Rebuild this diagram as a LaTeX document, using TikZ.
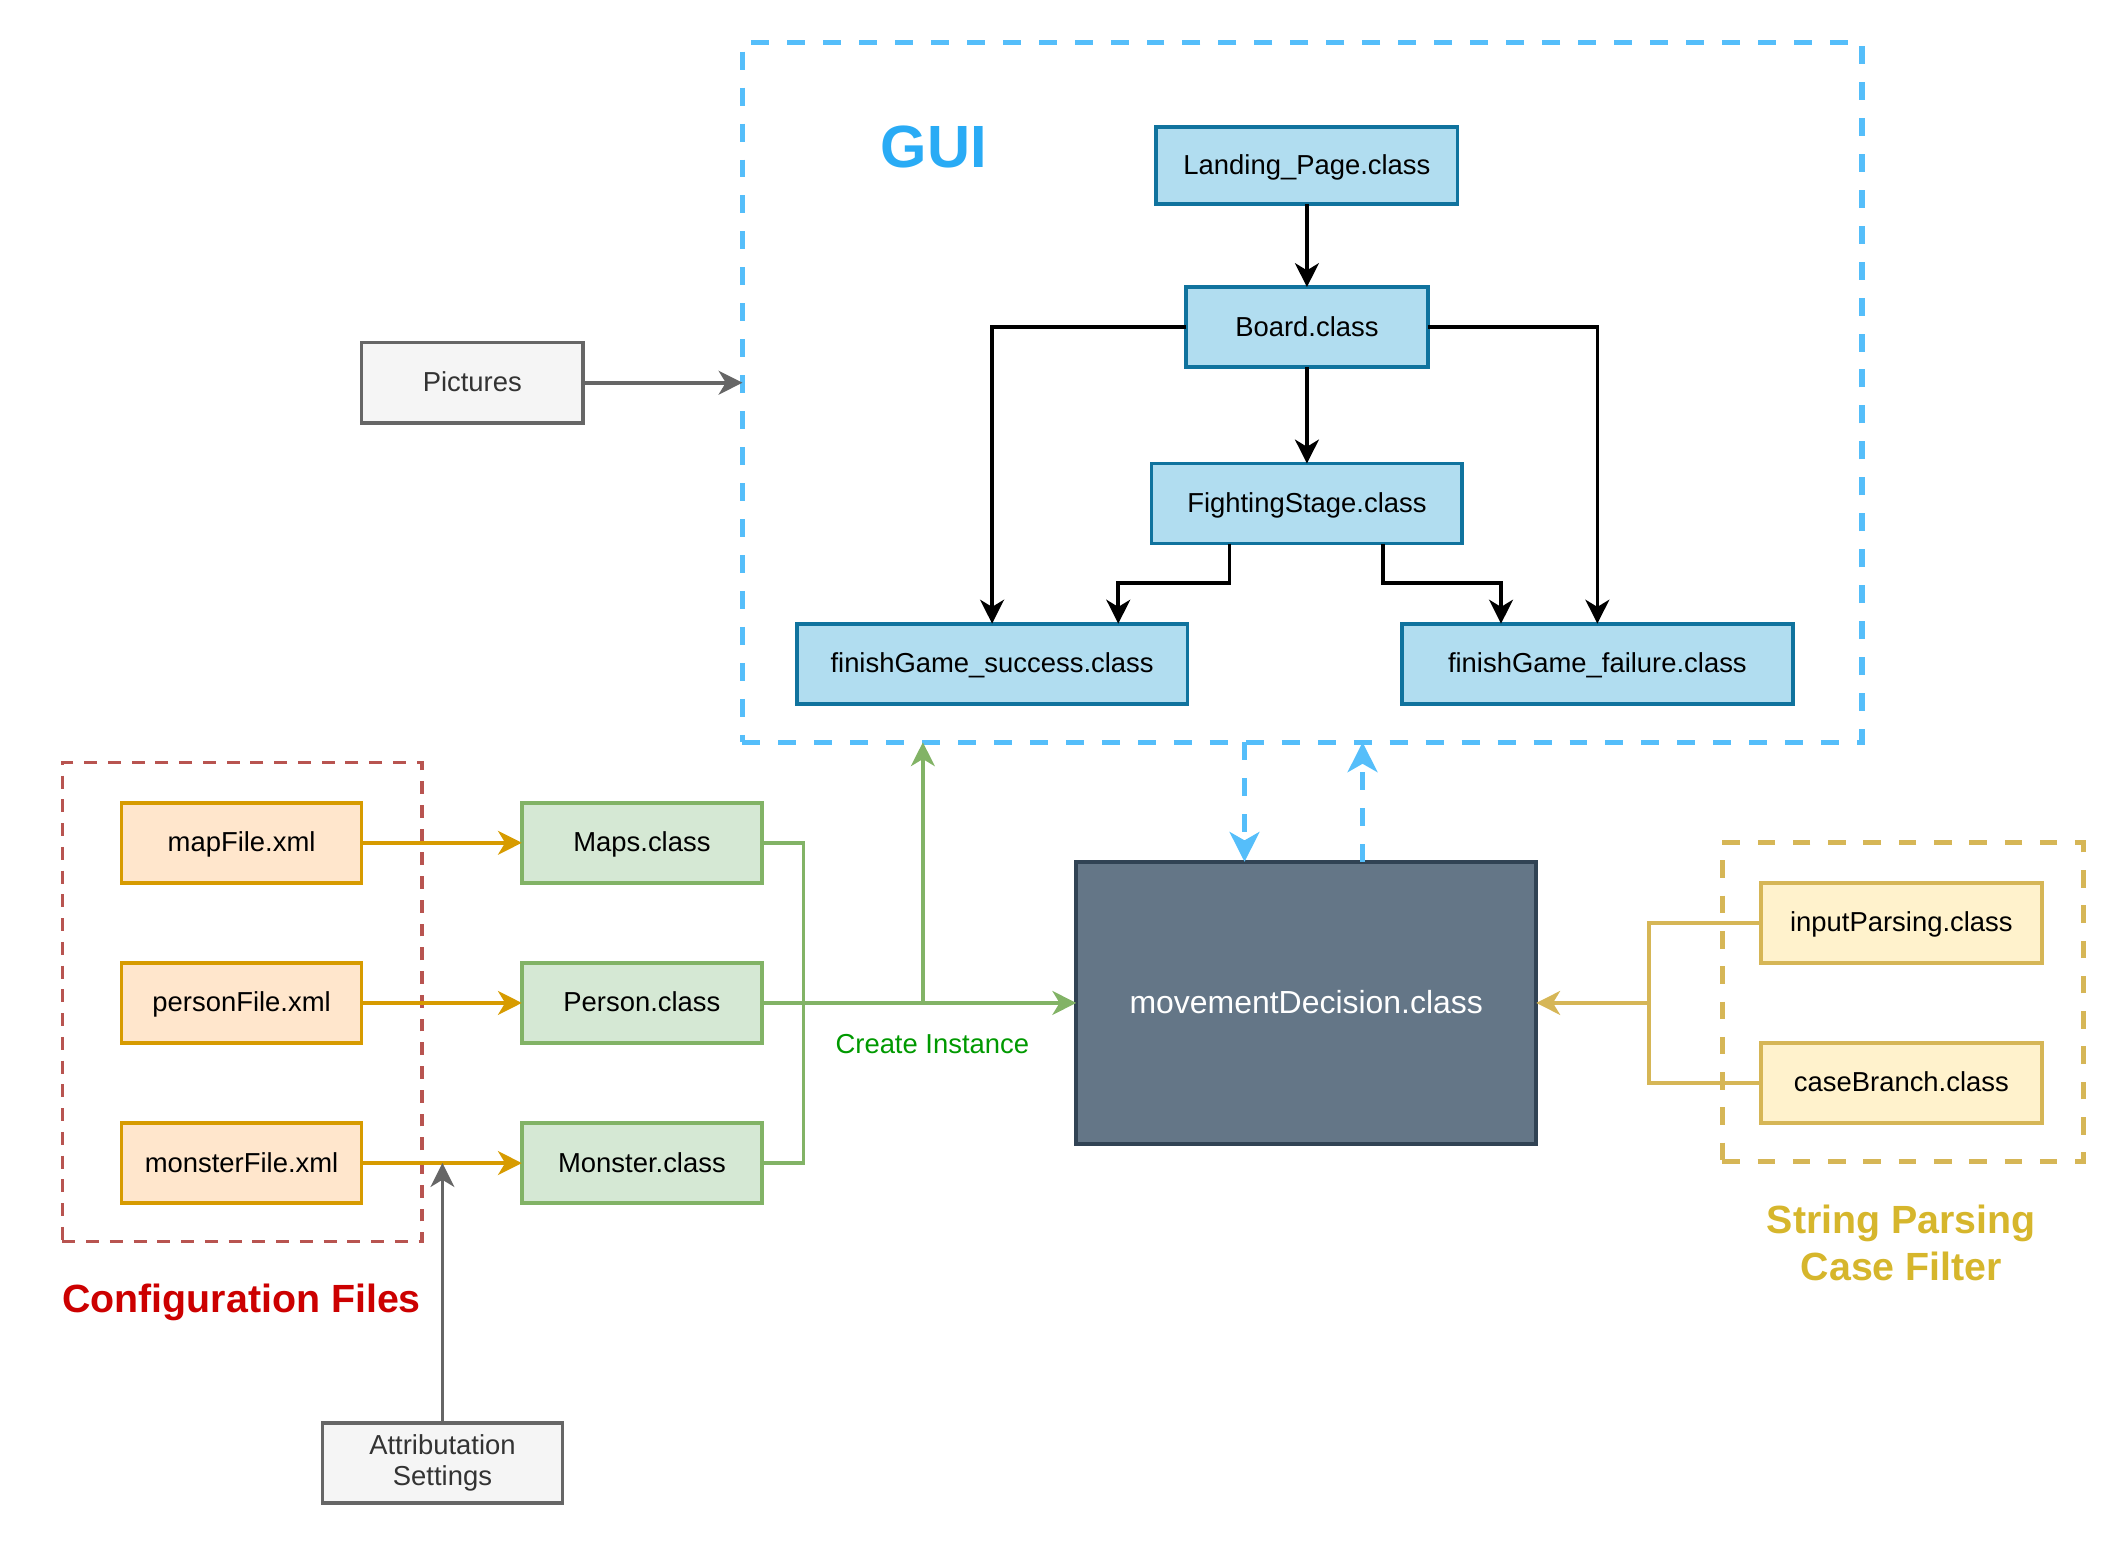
\documentclass[tikz,border=0pt]{standalone}
\usepackage{fontspec}
\setmainfont{Liberation Sans}
\usepackage{xcolor}
\usepackage{tikz}
\usetikzlibrary{arrows.meta}

\definecolor{guiblue}{RGB}{85,190,250}
\definecolor{guitext}{RGB}{41,171,245}
\definecolor{clsfill}{HTML}{B1DDF0}
\definecolor{clsdraw}{HTML}{10739E}
\definecolor{greyfill}{HTML}{F5F5F5}
\definecolor{greydraw}{HTML}{666666}
\definecolor{greytext}{HTML}{333333}
\definecolor{xmlfill}{HTML}{FFE6CC}
\definecolor{xmldraw}{HTML}{D79B00}
\definecolor{objfill}{HTML}{D5E8D4}
\definecolor{objdraw}{HTML}{82B366}
\definecolor{movefill}{HTML}{647687}
\definecolor{movedraw}{HTML}{314354}
\definecolor{parsefill}{HTML}{FFF2CC}
\definecolor{parsedraw}{HTML}{D6B656}
\definecolor{cfgdraw}{HTML}{B85450}
\definecolor{cfgtext}{HTML}{CC0000}
\definecolor{parsetext}{RGB}{214,182,44}
\definecolor{instgreen}{RGB}{0,153,0}

\tikzset{
  box/.style={draw, line width=1.5pt, inner sep=0pt, outer sep=0pt,
    minimum height=1.18cm, text height=9.5pt, text depth=2pt,
    font=\fontsize{11.5}{14}\selectfont},
  guicls/.style={box, fill=clsfill, draw=clsdraw, line width=1.6pt},
  xmlbox/.style={box, fill=xmlfill, draw=xmldraw, minimum width=3.54cm},
  objbox/.style={box, fill=objfill, draw=objdraw, minimum width=3.54cm},
  parsebox/.style={box, fill=parsefill, draw=parsedraw, minimum width=4.14cm},
  greybox/.style={box, fill=greyfill, draw=greydraw, text=greytext, align=center},
  conn/.style={line width=1.5pt},
  tip/.style={conn, -{Stealth[length=10pt,width=10pt,inset=3pt]}},
  bigtip/.style={-{Stealth[length=12.5pt,width=12.5pt,inset=3.5pt]}},
  guidash/.style={guiblue, line width=2pt, dash pattern=on 0.265cm off 0.265cm},
}

\begin{document}
\begin{tikzpicture}[x=0.02cm,y=-0.02cm]
\useasboundingbox (0,0) rectangle (1568,1139);

% Containers
\node[guidash, draw, line width=2.2pt,
  minimum width=16.5cm, minimum height=10.32cm, inner sep=0pt, outer sep=0pt]
  (gui) at (959.5,289) {};
\node[draw=cfgdraw, line width=1.3pt, dash pattern=on 0.19cm off 0.16cm,
  minimum width=5.3cm, minimum height=7.06cm, inner sep=0pt, outer sep=0pt]
  (cfg) at (178.5,738.5) {};
\node[draw=parsedraw, line width=2.2pt, dash pattern=on 0.26cm off 0.26cm,
  minimum width=5.32cm, minimum height=4.7cm, inner sep=0pt, outer sep=0pt]
  (strbox) at (1402,738.5) {};

% Titles
\node[text=guitext, font=\fontsize{25}{30}\selectfont\bfseries] (guititle) at (688,108) {GUI};
\node[text=cfgtext, font=\fontsize{16.5}{20}\selectfont\bfseries] (cfgtitle) at (178,960) {Configuration Files};
\node[text=parsetext, font=\fontsize{16.5}{19.8}\selectfont\bfseries, align=center]
  (strtitle) at (1401,916) {String Parsing\\Case Filter};

% GUI classes
\node[guicls, minimum width=4.44cm, minimum height=1.14cm] (landing) at (963,122) {Landing\_Page.class};
\node[guicls, minimum width=3.56cm] (board) at (963,241) {Board.class};
\node[guicls, minimum width=4.58cm] (fight) at (963,371) {FightingStage.class};
\node[guicls, minimum width=5.76cm] (success) at (731,489) {finishGame\_success.class};
\node[guicls, minimum width=5.76cm] (failure) at (1177,489) {finishGame\_failure.class};

\draw[tip] (landing) -- (board);
\draw[tip] (board) -- (fight);
\draw[tip] (board.west) -| (success.north);
\draw[tip] (board.east) -| (failure.north);
\draw[tip] ([xshift=-1.14cm]fight.south) -- ++(0,29) -| ([xshift=1.86cm]success.north);
\draw[tip] ([xshift=1.12cm]fight.south) -- ++(0,29) -| ([xshift=-1.42cm]failure.north);

% Pictures
\node[greybox, minimum width=3.26cm] (pics) at (348,282) {Pictures};
\draw[tip, greydraw] (pics.east) -- (pics.east -| gui.west);

% Configuration files
\node[xmlbox] (mapf) at (178,621) {mapFile.xml};
\node[xmlbox] (personf) at (178,739) {personFile.xml};
\node[xmlbox] (monsterf) at (178,857) {monsterFile.xml};

\node[objbox] (maps) at (473,621) {Maps.class};
\node[objbox] (person) at (473,739) {Person.class};
\node[objbox] (monster) at (473,857) {Monster.class};

\draw[tip, xmldraw] (mapf) -- (maps);
\draw[tip, xmldraw] (personf) -- (person);
\draw[tip, xmldraw] (monsterf) -- (monster);

\node[greybox, minimum width=3.54cm, text height=, text depth=, font=\fontsize{11.5}{13}\selectfont] (attr) at (326,1078) {Attributation\\Settings};
\draw[tip, greydraw] (attr.north) -- (attr.north |- monster.west);

% Decision
\node[box, fill=movefill, draw=movedraw, text=white, minimum width=6.78cm, minimum height=4.16cm,
  text height=11pt, font=\fontsize{13.4}{16}\selectfont] (move) at (962.5,739) {movementDecision.class};

% Create instance
\coordinate (gjoin) at (592,739);
\coordinate (gsplit) at (680,739);
\draw[conn, objdraw] (maps.east) -| (gjoin);
\draw[conn, objdraw] (monster.east) -| (gjoin);
\draw[tip, objdraw] (person.east) -- (move.west);
\draw[tip, objdraw] (gsplit) -- (gsplit |- gui.south);
\node[text=instgreen, font=\fontsize{11.5}{14}\selectfont] (inst) at (687,769) {Create Instance};

% GUI <-> decision
\coordinate (downend) at ([xshift=-0.91cm]move.north);
\coordinate (upstart) at ([xshift=0.83cm]move.north);
\draw[bigtip, guidash] (downend |- gui.south) -- (downend);
\draw[bigtip, guidash] (upstart) -- (upstart |- gui.south);

% String parsing
\node[parsebox] (parse) at (1401,680) {inputParsing.class};
\node[parsebox] (branch) at (1401,798) {caseBranch.class};
\coordinate (yjoin) at (1215,739);
\draw[conn, parsedraw] (parse.west) -| (yjoin);
\draw[conn, parsedraw] (branch.west) -| (yjoin);
\draw[tip, parsedraw] (yjoin) -- (move.east);
\end{tikzpicture}
\end{document}
